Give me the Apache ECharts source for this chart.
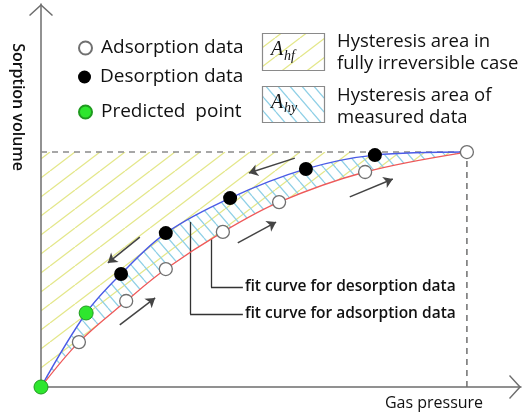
<!DOCTYPE html>
<html>
<head>
<meta charset="utf-8">
<script src="https://cdn.jsdelivr.net/npm/echarts@6/dist/echarts.min.js"></script>
<style>
  html, body { margin: 0; padding: 0; background: #fff; }
  #chart { width: 523px; height: 414px; }
</style>
</head>
<body>
<div id="chart"></div>
<script>
// Normalised units: gas pressure and sorption volume both scaled to 1 at the last adsorption point.
const adsorptionData = [[0.089, 0.191], [0.200, 0.366], [0.293, 0.502], [0.427, 0.660], [0.559, 0.787], [0.761, 0.915], [1.0, 1.0]];
const desorptionData = [[0.188, 0.481], [0.293, 0.655], [0.444, 0.804], [0.622, 0.928], [0.784, 0.987]];
const predictedData = [[0.0, 0.0], [0.106, 0.315]];

// Fitted isotherm branches
const adsorptionFit = [[0.0, 0.0], [0.089, 0.191], [0.200, 0.366], [0.293, 0.502], [0.427, 0.660], [0.559, 0.787], [0.761, 0.915], [1.0, 1.0]];
const desorptionFit = [[0.0, 0.0], [0.106, 0.315], [0.188, 0.481], [0.293, 0.655], [0.444, 0.804], [0.622, 0.928], [0.784, 0.987], [1.0, 1.0]];

// Maximum sorption plateau and the pressure where it is reached
const plateauLine = [[0.0, 1.0], [1.0, 1.0]];
const maxPressureLine = [[1.0, 0.0], [1.0, 1.0]];

// Direction arrows along each branch
const desorptionArrows = [
  [[0.596, 0.974], [0.488, 0.911]],
  [[0.232, 0.638], [0.157, 0.528]]
];
const adsorptionArrows = [
  [[0.185, 0.264], [0.268, 0.379]],
  [[0.462, 0.613], [0.552, 0.702]],
  [[0.725, 0.809], [0.826, 0.885]]
];

// Leader lines for the fit curve callouts
const leaderSegments = [
  { coords: [[0.350, 0.702], [0.350, 0.311]], name: '' },
  { coords: [[0.350, 0.311], [0.474, 0.311]], name: 'fit curve for adsorption data' },
  { coords: [[0.399, 0.630], [0.399, 0.426]], name: '' },
  { coords: [[0.399, 0.426], [0.474, 0.426]], name: 'fit curve for desorption data' }
];

const FONT = '"Open Sans", "Noto Sans", sans-serif';

function hatch(color, w, h, rising, width) {
  const c = document.createElement('canvas');
  c.width = w; c.height = h;
  const g = c.getContext('2d');
  g.strokeStyle = color;
  g.lineWidth = width;
  for (const dx of [-w, 0, w]) {
    g.beginPath();
    if (rising) { g.moveTo(dx, h); g.lineTo(dx + w, 0); }
    else { g.moveTo(dx, 0); g.lineTo(dx + w, h); }
    g.stroke();
  }
  return { image: c, repeat: 'repeat' };
}

const yellowHatch = hatch('#e4e78a', 25, 19, true, 1.3);
const blueHatch = hatch('#8fd0e6', 12, 14, false, 1.3);

const chevron = 'path://M0,0 L12,11 L11,12 L0,2 L-11,12 L-12,11 Z';

const axisCommon = {
  type: 'value',
  min: 0,
  z: 3,
  axisLine: {
    show: true,
    lineStyle: { color: '#6e6e6e', width: 1.5 },
    symbol: ['none', chevron],
    symbolSize: [24, 12],
    symbolOffset: [0, -6]
  },
  axisTick: { show: false },
  axisLabel: { show: false },
  splitLine: { show: false }
};

const chart = echarts.init(document.getElementById('chart'), null, { renderer: 'canvas' });

const legendText = { fontFamily: FONT, fontSize: 19, lineHeight: 22, color: '#111', padding: [0, 0, 0, 4] };
function legendFor(name, top) {
  return {
    data: [name], left: 78, top: top, orient: 'vertical', padding: 0,
    itemWidth: 13, itemHeight: 13, selectedMode: false,
    textStyle: legendText
  };
}

const textStyleRight = { fontFamily: FONT, fontSize: 18.5, fill: '#111', verticalAlign: 'middle', align: 'left' };

chart.setOption({
  animation: false,
  backgroundColor: '#fff',
  grid: { left: 41, right: 2, top: 4, bottom: 27 },
  xAxis: Object.assign({}, axisCommon, { max: 1.127 }),
  yAxis: Object.assign({}, axisCommon, { max: 1.63 }),
  legend: [
    legendFor('Adsorption data', 37),
    legendFor('Desorption data', 66),
    legendFor('Predicted  point', 101)
  ],
  graphic: [
    { type: 'text', x: 18, y: 107, rotation: -Math.PI / 2,
      style: { text: 'Sorption volume', fontFamily: FONT, fontSize: 16, fontWeight: 600, fill: '#111', align: 'center', verticalAlign: 'middle' } },
    { type: 'text', x: 434, y: 403,
      style: { text: 'Gas pressure', fontFamily: FONT, fontSize: 16, fontWeight: 500, fill: '#111', align: 'center', verticalAlign: 'middle' } },

    { type: 'rect', shape: { x: 262.5, y: 33.5, width: 62, height: 37 },
      style: { fill: yellowHatch, stroke: '#8a8a8a', lineWidth: 1.2 } },
    { type: 'text', x: 271, y: 50, style: { text: 'A', fontFamily: '"Liberation Serif", "DejaVu Serif", serif', fontStyle: 'italic', fontSize: 20, fill: '#111', align: 'left', verticalAlign: 'middle' } },
    { type: 'text', x: 284, y: 56, style: { text: 'hf', fontFamily: '"Liberation Serif", "DejaVu Serif", serif', fontStyle: 'italic', fontSize: 14, fill: '#111', align: 'left', verticalAlign: 'middle' } },

    { type: 'rect', shape: { x: 262.5, y: 86.5, width: 62, height: 36 },
      style: { fill: blueHatch, stroke: '#8a8a8a', lineWidth: 1.2 } },
    { type: 'text', x: 271, y: 103, style: { text: 'A', fontFamily: '"Liberation Serif", "DejaVu Serif", serif', fontStyle: 'italic', fontSize: 20, fill: '#111', align: 'left', verticalAlign: 'middle' } },
    { type: 'text', x: 284, y: 108, style: { text: 'hy', fontFamily: '"Liberation Serif", "DejaVu Serif", serif', fontStyle: 'italic', fontSize: 14, fill: '#111', align: 'left', verticalAlign: 'middle' } },

    { type: 'text', x: 337, y: 42, style: Object.assign({ text: 'Hysteresis area in' }, textStyleRight) },
    { type: 'text', x: 337, y: 64, style: Object.assign({ text: 'fully irreversible case' }, textStyleRight) },
    { type: 'text', x: 337, y: 96, style: Object.assign({ text: 'Hysteresis area of' }, textStyleRight) },
    { type: 'text', x: 337, y: 118, style: Object.assign({ text: 'measured data' }, textStyleRight) }
  ],
  series: [
    {
      // fully irreversible case: everything up to the plateau
      type: 'line', data: plateauLine, symbol: 'none', silent: true,
      lineStyle: { color: '#8a8a8a', width: 1.5, type: [6, 5] },
      areaStyle: { color: yellowHatch, opacity: 1, origin: 'start' }
    },
    {
      name: 'desorption fit', type: 'line', data: desorptionFit, smooth: 0.35, symbol: 'none', silent: true,
      lineStyle: { color: '#4b5be6', width: 1.4 },
      areaStyle: { color: blueHatch, opacity: 1, origin: 'start' }
    },
    {
      name: 'adsorption fit', type: 'line', data: adsorptionFit, smooth: 0.35, symbol: 'none', silent: true,
      lineStyle: { color: '#ef5a5a', width: 1.3 },
      areaStyle: { color: '#ffffff', opacity: 1, origin: 'start' }
    },
    {
      type: 'line', data: maxPressureLine, symbol: 'none', silent: true,
      lineStyle: { color: '#6e6e6e', width: 1.5, type: [6, 5] }
    },
    {
      type: 'lines', coordinateSystem: 'cartesian2d', z: 3, silent: true,
      symbol: ['none', 'arrow'], symbolSize: 9,
      lineStyle: { color: '#444', width: 1.5, opacity: 1 },
      data: desorptionArrows.concat(adsorptionArrows).map(c => ({ coords: c }))
    },
    {
      type: 'lines', coordinateSystem: 'cartesian2d', z: 3, silent: true,
      lineStyle: { color: '#333', width: 1.3, opacity: 1 },
      label: {
        show: true, position: 'end', distance: 2, formatter: '{b}',
        fontFamily: FONT, fontSize: 15.5, fontWeight: 600, color: '#111'
      },
      data: leaderSegments
    },
    {
      name: 'Adsorption data', type: 'scatter', data: adsorptionData, z: 5,
      symbol: 'circle', symbolSize: 13,
      itemStyle: { color: '#ffffff', borderColor: '#707070', borderWidth: 1.3, opacity: 1 }
    },
    {
      name: 'Desorption data', type: 'scatter', data: desorptionData, z: 5,
      symbol: 'circle', symbolSize: 14,
      itemStyle: { color: '#000000', opacity: 1 }
    },
    {
      name: 'Predicted  point', type: 'scatter', data: predictedData, z: 6,
      symbol: 'circle', symbolSize: 14,
      itemStyle: { color: '#2ee62e', borderColor: '#1f9a1f', borderWidth: 1, opacity: 1 }
    }
  ]
});
</script>
</body>
</html>
